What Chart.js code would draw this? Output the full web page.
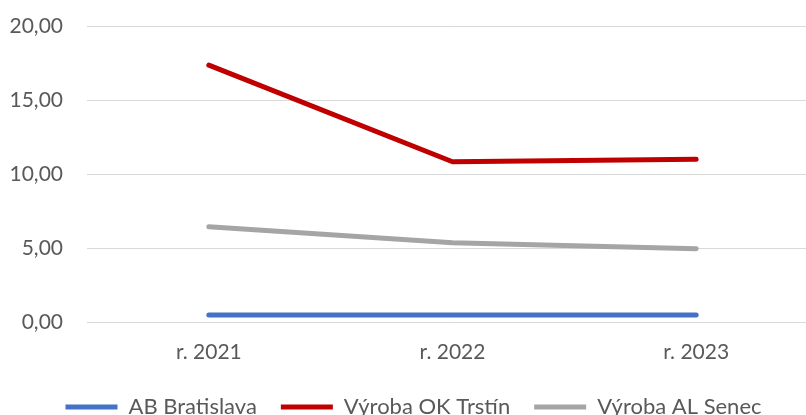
<!DOCTYPE html>
<html>
<head>
<meta charset="utf-8">
<script src="https://cdn.jsdelivr.net/npm/chart.js@4/dist/chart.umd.min.js"></script>
<style>
  html, body { margin: 0; padding: 0; background: #fff; overflow: hidden; }
  #wrap { width: 806px; height: 415px; overflow: hidden; position: relative; }
  canvas { display: block; }
</style>
</head>
<body>
<div id="wrap"><canvas id="c" width="840" height="428"></canvas></div>
<script>
const categories = ['r. 2021', 'r. 2022', 'r. 2023'];
const seriesNames = ['AB Bratislava', 'Výroba OK Trstín', 'Výroba AL Senec'];
const abBratislava = [0.47, 0.47, 0.47];
const vyrobaOkTrstin = [17.36, 10.83, 10.99];
const vyrobaAlSenec = [6.44, 5.36, 4.95];
const yTicks = [0, 5, 10, 15, 20];

const colors = ['#4472C4', '#C00000', '#A5A5A5'];
const values = [abBratislava, vyrobaOkTrstin, vyrobaAlSenec];

Chart.defaults.font.family = 'Lato, "Open Sans", sans-serif';
Chart.defaults.color = '#595959';

new Chart(document.getElementById('c'), {
  type: 'line',
  data: {
    labels: categories,
    datasets: seriesNames.map((name, i) => ({
      label: name,
      data: values[i],
      borderColor: colors[i],
      backgroundColor: colors[i],
      borderWidth: 5,
      borderCapStyle: 'round',
      borderJoinStyle: 'round',
      pointRadius: 0,
      pointHoverRadius: 0,
      tension: 0,
      fill: false
    }))
  },
  options: {
    responsive: false,
    animation: false,
    devicePixelRatio: 1,
    layout: { padding: { top: 26, left: 9, right: 22, bottom: 0 } },
    plugins: {
      tooltip: { enabled: false },
      legend: {
        position: 'bottom',
        labels: {
          usePointStyle: true,
          pointStyle: 'line',
          pointStyleWidth: 52,
          boxWidth: 52,
          boxHeight: 5,
          padding: 24,
          color: '#595959',
          font: { size: 22 }
        }
      }
    },
    scales: {
      x: {
        offset: true,
        grid: { display: false, drawTicks: false },
        border: { display: false },
        ticks: { padding: 18, color: '#595959', font: { size: 21 } },
        afterFit: (s) => { s.height = 50; }
      },
      y: {
        min: 0,
        max: 20,
        afterBuildTicks: (axis) => { axis.ticks = yTicks.map(v => ({ value: v })); },
        afterFit: (s) => { s.width = 78; s.paddingTop = 10; s.paddingBottom = 10; },
        grid: { color: '#D9D9D9', lineWidth: 1, drawTicks: false },
        border: { display: false },
        ticks: {
          padding: 24,
          color: '#595959',
          font: { size: 21 },
          callback: (v) => Number(v).toFixed(2).replace('.', ',')
        }
      }
    }
  }
});
</script>
</body>
</html>
